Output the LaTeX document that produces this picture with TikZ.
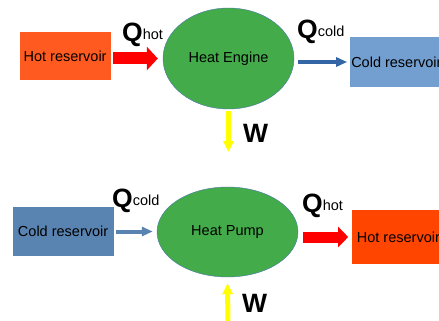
\documentclass[tikz,border=0pt]{standalone}
\usepackage{fontspec}
\setmainfont{Liberation Sans}
\usetikzlibrary{shapes.geometric, arrows.meta, positioning}
\definecolor{machine}{HTML}{43AB49}
\definecolor{machineline}{HTML}{4A78A8}
\definecolor{hotA}{HTML}{FF5A1F}
\definecolor{hotB}{HTML}{FF4500}
\definecolor{coldA}{HTML}{729FCF}
\definecolor{coldB}{HTML}{5983B0}
\definecolor{coldline}{HTML}{3465A4}
\definecolor{heat}{HTML}{FF0000}
\definecolor{work}{HTML}{FFFF00}
\newcommand{\bodyfont}{\fontsize{14.5}{17}\selectfont}
\newcommand{\bigfont}{\fontsize{26.5}{28}\selectfont\bfseries}
\newcommand{\qflow}[1]{{\bigfont Q}\raisebox{2pt}{\bodyfont #1}}
\tikzset{
  machinenode/.style = {ellipse, draw=machineline, line width=0.4pt, fill=machine,
                        inner sep=0pt, font=\bodyfont},
  reservoir/.style   = {rectangle, inner sep=0pt, font=\bodyfont, text=black},
  heatflow/.style    = {-{Triangle[length=11pt, width=23pt]}, draw=heat, line width=12pt},
  heatflowsm/.style  = {-{Triangle[length=10pt, width=20pt]}, draw=heat, line width=11pt},
  coldflow/.style    = {-{Triangle[length=11pt, width=9pt]}, line width=4pt},
  workflow/.style    = {-{Triangle[length=11pt, width=10pt]}, draw=work, line width=5pt},
  flowlabel/.style   = {anchor=base west, inner sep=0pt},
}
\begin{document}
\begin{tikzpicture}[x=1pt, y=-1pt]
  \useasboundingbox (0,0) rectangle (439,321);
  \clip (0,0) rectangle (439,321);

  % heat engine
  \node[machinenode, minimum width=131pt, minimum height=101pt] (engine) at (228.5,58.5) {Heat Engine};
  \node[reservoir, fill=hotA, minimum width=91pt, minimum height=48pt,
        left=52pt of engine, yshift=2.5pt] (hotres) {Hot reservoir};
  \node[reservoir, fill=coldA, minimum width=92pt, minimum height=50pt,
        right=56pt of engine, yshift=-3.5pt] (coldres) {Cold reservoir};
  \coordinate (wout) at (228.5,152);

  \draw[heatflow, shorten <=2pt, shorten >=5pt] (hotres.east |- engine) -- (engine.west);
  \draw[coldflow, draw=coldline, shorten <=4pt, shorten >=3pt] (engine.east |- coldres) -- (coldres.west);
  \draw[workflow, shorten <=2pt] (engine.south) -- (wout);

  \node[flowlabel] (qhin) at (122,42) {\qflow{hot}};
  \node[flowlabel] (qcout) at (297,38.5) {\qflow{cold}};
  \node[flowlabel, font=\bigfont] (wengine) at (243,142) {W};

  % heat pump
  \node[machinenode, minimum width=141pt, minimum height=90pt] (pump) at (227.5,232) {Heat Pump};
  \node[reservoir, fill=coldB, minimum width=101pt, minimum height=49pt,
        left=43pt of pump, yshift=0.5pt] (coldsrc) {Cold reservoir};
  \node[reservoir, fill=hotB, minimum width=92pt, minimum height=54pt,
        right=54pt of pump, yshift=-5pt] (hotsink) {Hot reservoir};
  \coordinate (win) at (228,330);

  \draw[coldflow, draw=coldB, shorten <=2pt, shorten >=4pt] (coldsrc.east) -- (coldsrc.east -| pump.west);
  \draw[heatflowsm, shorten <=5pt, shorten >=4pt] (pump.east |- hotsink) -- (hotsink.west);
  \draw[workflow, shorten >=6pt] (win) -- (pump.south);

  \node[flowlabel] (qcin) at (112,207) {\qflow{cold}};
  \node[flowlabel] (qhout) at (302,212) {\qflow{hot}};
  \node[flowlabel, font=\bigfont] (wpump) at (242,312) {W};
\end{tikzpicture}
\end{document}
